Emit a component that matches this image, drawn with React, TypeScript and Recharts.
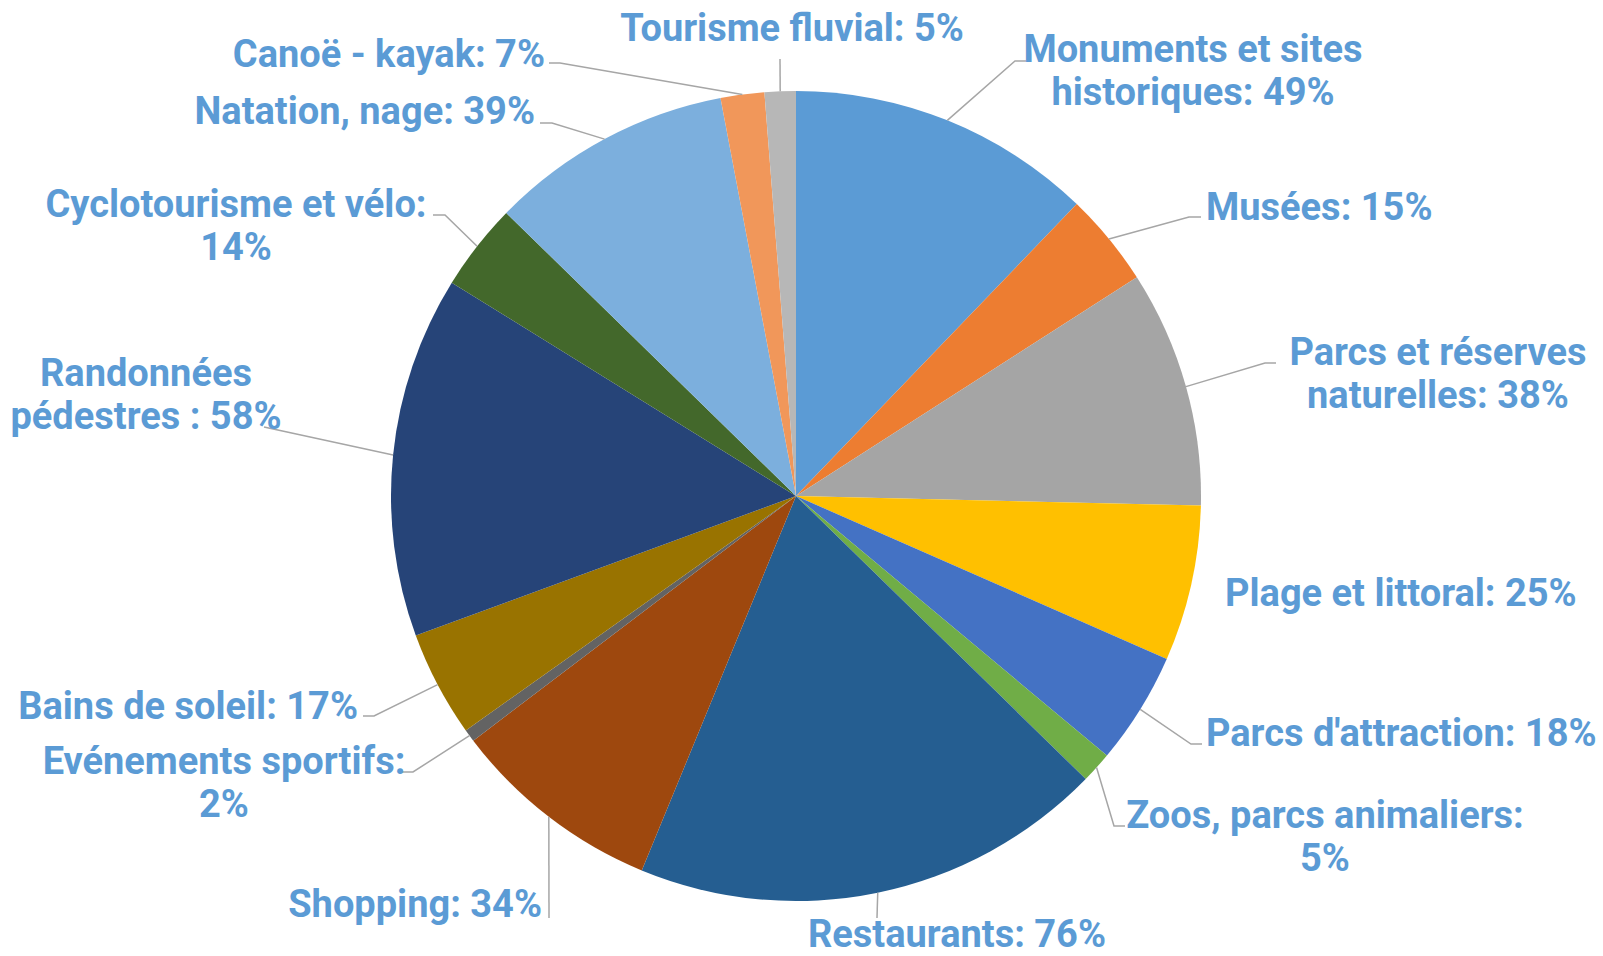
import { PieChart, Pie, Cell } from "recharts";

const categories = [
  "Monuments et sites historiques",
  "Musées",
  "Parcs et réserves naturelles",
  "Plage et littoral",
  "Parcs d'attraction",
  "Zoos, parcs animaliers",
  "Restaurants",
  "Shopping",
  "Evénements sportifs",
  "Bains de soleil",
  "Randonnées pédestres ",
  "Cyclotourisme et vélo",
  "Natation, nage",
  "Canoë - kayak",
  "Tourisme fluvial",
];

const values = [49, 15, 38, 25, 18, 5, 76, 34, 2, 17, 58, 14, 39, 7, 5];

const colors = [
  "#5B9BD5", "#ED7D31", "#A5A5A5", "#FFC000", "#4472C4",
  "#70AD47", "#255E91", "#9E480E", "#636363", "#997300",
  "#264478", "#43682B", "#7CAFDD", "#F1975A", "#B7B7B7",
];

const data = categories.map((name, i) => ({ name, value: values[i] }));

// where each label sits (page pixels), elbow of its leader line, and how many words go on line 1
type Layout = {
  x: number;
  y: number;
  anchor: "start" | "middle" | "end";
  elbow?: [number, number];
  tail?: number;
  wrap?: number;
};

const labelLayout: Layout[] = [
  { x: 1193, y: 62, anchor: "middle", elbow: [1015, 61], tail: 1026, wrap: 3 },
  { x: 1206, y: 220, anchor: "start", elbow: [1189, 217], tail: 1201 },
  { x: 1438, y: 365, anchor: "middle", elbow: [1265, 363], tail: 1276, wrap: 3 },
  { x: 1225, y: 606, anchor: "start" },
  { x: 1206, y: 746, anchor: "start", elbow: [1191, 744], tail: 1202 },
  { x: 1325, y: 828, anchor: "middle", elbow: [1114, 826], tail: 1125, wrap: 3 },
  { x: 957, y: 947, anchor: "middle", elbow: [877, 918] },
  { x: 542, y: 917, anchor: "end", elbow: [549, 918] },
  { x: 224, y: 774, anchor: "middle", elbow: [413, 772], tail: 402, wrap: 2 },
  { x: 358, y: 719, anchor: "end", elbow: [374, 716], tail: 363 },
  { x: 146, y: 386, anchor: "middle", elbow: [264, 427], wrap: 1 },
  { x: 236, y: 217, anchor: "middle", elbow: [445, 215], tail: 433, wrap: 3 },
  { x: 535, y: 124, anchor: "end", elbow: [552, 123], tail: 540 },
  { x: 545, y: 67, anchor: "end", elbow: [560, 63], tail: 549 },
  { x: 792, y: 41, anchor: "middle", elbow: [780, 59] },
];

const RAD = Math.PI / 180;
const LINE_H = 43;

const renderLabel = (props: any) => {
  const { cx, cy, midAngle, outerRadius, index } = props;
  const lay = labelLayout[index];
  const text = `${categories[index]}: ${values[index]}%`;
  let lines = [text];
  if (lay.wrap) {
    const words = text.split(" ");
    lines = [words.slice(0, lay.wrap).join(" "), words.slice(lay.wrap).join(" ")];
  }
  const ex = cx + outerRadius * Math.cos(-midAngle * RAD);
  const ey = cy + outerRadius * Math.sin(-midAngle * RAD);
  let pts = "";
  if (lay.elbow) {
    pts = `${ex},${ey} ${lay.elbow[0]},${lay.elbow[1]}`;
    if (lay.tail !== undefined) pts += ` ${lay.tail},${lay.elbow[1]}`;
  }
  return (
    <g key={`lbl-${index}`}>
      {pts && <polyline points={pts} fill="none" stroke="#A6A6A6" strokeWidth={1.5} />}
      <text
        x={lay.x}
        y={lay.y}
        textAnchor={lay.anchor}
        fill="#5B9BD5"
        fontFamily="Roboto, sans-serif"
        fontWeight={700}
        fontSize={38}
      >
        {lines.map((l, i) => (
          <tspan key={i} x={lay.x} y={lay.y + i * LINE_H}>
            {l}
          </tspan>
        ))}
      </text>
    </g>
  );
};

export default function App() {
  return (
    <div style={{ position: "absolute", left: 0, top: 0, width: 1603, height: 956, background: "#fff" }}>
      <style>{`.recharts-pie-sectors { filter: drop-shadow(0 0 4px rgba(0,0,0,0.22)); }`}</style>
      <PieChart width={1603} height={956} margin={{ top: 0, right: 0, bottom: 0, left: 0 }}>
        <Pie
          data={data}
          dataKey="value"
          nameKey="name"
          cx={796}
          cy={496}
          outerRadius={405}
          startAngle={90}
          endAngle={-270}
          stroke="none"
          label={renderLabel}
          labelLine={false}
          isAnimationActive={false}
        >
          {data.map((d, i) => (
            <Cell key={d.name} fill={colors[i]} />
          ))}
        </Pie>
      </PieChart>
    </div>
  );
}
